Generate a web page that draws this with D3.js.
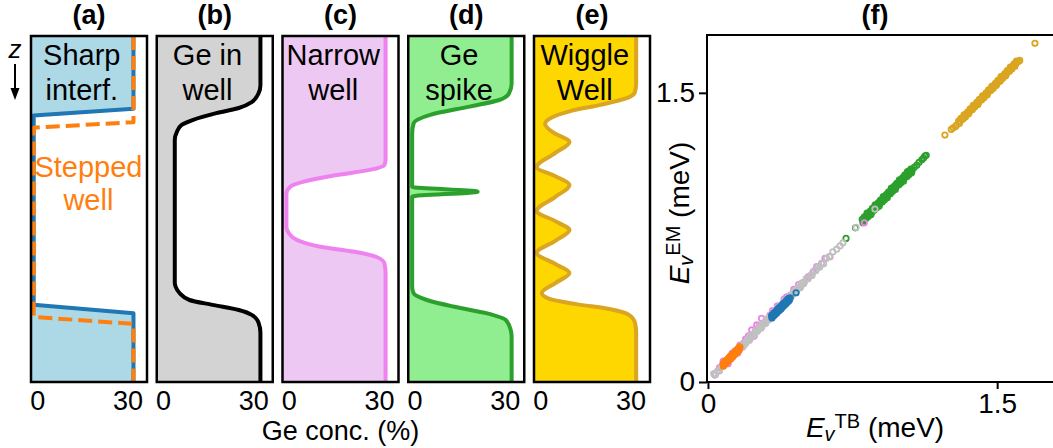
<!DOCTYPE html>
<html>
<head>
<meta charset="utf-8">
<script src="https://cdn.jsdelivr.net/npm/d3@7"></script>
<style>
  body { margin: 0; background: #fff; }
  svg text { font-family: "Liberation Sans", Arial, Helvetica, sans-serif; }
</style>
</head>
<body>
<svg id="fig" width="1053" height="448"></svg>
<script>
// ---------- Ge concentration profiles: [Ge conc. (%), depth z (a.u., 0 = top)] ----------
const profileSharp = [[32, 0], [32, 21.0], [-1.2, 23.0], [-1.2, 77.7], [32, 80.1], [32, 100]];
const profileStepped = [[32, 0], [32, 24.9], [-1.2, 26.5], [-1.2, 81.2], [32, 83.2], [32, 100]];
const profileGeWell = [[32.4, 0], [32.4, 14.2], [31.8, 16.5], [29.5, 19.1], [25.2, 20.8], [17.7, 22.3],
  [9.8, 24.3], [6.2, 25.7], [4.6, 27.7], [3.9, 30.1], [3.9, 71.4], [4.2, 72.5], [5.5, 74.3],
  [8.8, 76.3], [16.4, 77.7], [25.2, 79.2], [29.5, 80.6], [31.8, 82.9], [32.4, 85.8], [32.4, 100]];
const profileNarrow = [[32.2, 0], [32.2, 35.8], [31.8, 37.3], [26.9, 38.7], [15.9, 40.2], [5.0, 42.1],
  [0.6, 43.5], [-0.8, 45.5], [-0.8, 55.1], [0, 57.0], [2.8, 59.0], [10.5, 60.9], [21.4, 62.3],
  [29.0, 63.8], [31.8, 65.7], [32.2, 68.6], [32.2, 100]];
const profileSpike = [[32.3, 0], [32.3, 13.7], [31.4, 16.6], [28.2, 18.5], [18.3, 20.4], [5.2, 22.8],
  [-0.3, 25.2], [-0.8, 28.1], [-0.8, 43.6], [21, 45.0], [-0.8, 46.4], [-0.8, 72.5], [-0.3, 74.4],
  [4.1, 76.3], [12.9, 78.2], [23.8, 80.1], [30.4, 82.1], [32.0, 85.0], [32.3, 87], [32.3, 100]];
const profileWiggle = [[31.9, 0], [31.9, 13.6], [31.5, 16.2], [29, 17.9], [20, 19.9], [10, 21.7],
  [3.5, 23.7], [1.6, 25.4], [4.5, 28.0], [9.7, 30.6], [5, 33.8], [-1.2, 37.9], [5, 40.5], [9.7, 43.1],
  [5, 46.5], [-1.2, 50.6], [5, 53.5], [9.7, 56.1], [5, 59.2], [-1.2, 62.7], [5, 65.9], [9.7, 68.5],
  [5, 71.4], [0.5, 74.3], [3, 76.0], [12, 77.5], [23, 78.9], [29.5, 80.6], [31.5, 82.9],
  [31.9, 85.8], [31.9, 100]];

const concTicks = [0, 30];
const panelTitles = ["(a)", "(b)", "(c)", "(d)", "(e)"];
const panelNotes = [["Sharp", "interf."], ["Ge in", "well"], ["Narrow", "well"], ["Ge", "spike"], ["Wiggle", "Well"]];
const steppedNote = ["Stepped", "well"];

// ---------- valley splitting: [E_v TB (meV), E_v EM (meV)] ----------
const ptsStepped = [[0.078,0.094],[0.082,0.088],[0.086,0.097],[0.090,0.094],[0.094,0.108],[0.098,0.107],
  [0.102,0.118],[0.106,0.112],[0.110,0.121],[0.114,0.118],[0.118,0.132],[0.122,0.131],[0.126,0.142],
  [0.130,0.136],[0.134,0.145],[0.138,0.142],[0.142,0.156],[0.146,0.155],[0.150,0.166],[0.154,0.160],
  [0.158,0.169],[0.162,0.166],[0.166,0.180],
  [0.080,0.082],[0.084,0.101],[0.088,0.096],[0.092,0.110],[0.096,0.100],[0.100,0.112],[0.104,0.106],
  [0.108,0.125],[0.112,0.120],[0.116,0.134],[0.120,0.124],[0.124,0.136],[0.128,0.130],[0.132,0.149],
  [0.136,0.144],[0.140,0.158],[0.144,0.148],[0.148,0.160],[0.152,0.154],[0.156,0.173],[0.160,0.168],
  [0.164,0.182]];
const ptsSharp = [[0.330,0.344],[0.334,0.338],[0.338,0.347],[0.342,0.344],[0.346,0.358],[0.350,0.357],
  [0.354,0.368],[0.358,0.362],[0.362,0.371],[0.366,0.368],[0.370,0.382],[0.374,0.381],[0.378,0.392],
  [0.382,0.386],[0.386,0.395],[0.390,0.392],[0.394,0.406],[0.398,0.405],[0.402,0.416],[0.406,0.410],
  [0.410,0.419],[0.414,0.416],[0.418,0.430],[0.422,0.429],[0.426,0.437],
  [0.332,0.332],[0.336,0.351],[0.340,0.346],[0.344,0.360],[0.348,0.350],[0.352,0.362],[0.356,0.356],
  [0.360,0.375],[0.364,0.370],[0.368,0.384],[0.372,0.374],[0.376,0.386],[0.380,0.380],[0.384,0.399],
  [0.388,0.394],[0.392,0.408],[0.396,0.398],[0.400,0.410],[0.404,0.404],[0.408,0.423],[0.412,0.418],
  [0.416,0.432],[0.420,0.422],[0.424,0.434],[0.457,0.463]];
const ptsGeWell = [[0.030,0.043],[0.040,0.040],[0.050,0.058],[0.060,0.058],[0.070,0.081],[0.080,0.084],
  [0.090,0.105],[0.100,0.102],[0.110,0.119],[0.120,0.120],[0.130,0.143],[0.140,0.146],[0.150,0.167],
  [0.160,0.164],[0.170,0.181],[0.180,0.181],[0.190,0.205],[0.200,0.208],[0.210,0.228],[0.220,0.226],
  [0.230,0.243],[0.240,0.243],[0.250,0.267],[0.260,0.270],[0.270,0.290],[0.280,0.287],[0.290,0.305],
  [0.300,0.305],[0.310,0.328],[0.320,0.332],[0.330,0.352],[0.340,0.349],[0.350,0.367],[0.360,0.367],
  [0.370,0.390],[0.380,0.393],[0.390,0.414],[0.400,0.411],[0.410,0.428],[0.420,0.429],[0.430,0.452],
  [0.440,0.455],[0.450,0.476],[0.460,0.473],[0.470,0.490],[0.480,0.490],[0.490,0.514],[0.500,0.517],
  [0.510,0.537],[0.520,0.535],[0.530,0.552],[0.540,0.552],[0.550,0.576],[0.560,0.579],[0.570,0.599],
  [0.580,0.596],[0.590,0.614],[0.600,0.614],[0.615,0.642],[0.630,0.651],[0.648,0.675],[0.668,0.689],
  [0.685,0.706],[0.700,0.722],[0.768,0.802],[0.866,0.897],
  [0.155,0.156],[0.165,0.180],[0.175,0.182],[0.185,0.203],[0.195,0.200],[0.205,0.217],[0.215,0.217],
  [0.225,0.242],[0.235,0.244],[0.245,0.264],[0.255,0.262],[0.265,0.279],[0.275,0.279],[0.285,0.304],
  [0.295,0.306],[0.305,0.326],[0.315,0.323],[0.325,0.341],[0.335,0.341],[0.345,0.365],[0.355,0.368],
  [0.365,0.388],[0.375,0.385],[0.385,0.403],[0.395,0.403],[0.405,0.427],[0.415,0.429],[0.425,0.450],
  [0.435,0.447],[0.445,0.464],[0.455,0.465],[0.465,0.489],[0.475,0.491],[0.485,0.512],[0.495,0.509]];
const ptsNarrow = [[0.036,0.036],[0.060,0.075],[0.079,0.108],[0.095,0.110],[0.105,0.095],[0.125,0.148],
  [0.140,0.160],[0.155,0.150],[0.166,0.192],[0.183,0.185],[0.195,0.222],[0.210,0.240],[0.227,0.270],
  [0.240,0.238],[0.253,0.296],[0.265,0.290],[0.278,0.330],[0.300,0.318],[0.322,0.347],[0.335,0.370],
  [0.360,0.395],[0.378,0.380],[0.395,0.430],[0.408,0.442],[0.425,0.428],[0.445,0.480],[0.470,0.505],
  [0.495,0.515],[0.520,0.546],[0.545,0.570],[0.564,0.598],[0.590,0.616],[0.607,0.642],[0.633,0.650],
  [0.811,0.826]];
const ptsSpike = [[0.716,0.745],[0.765,0.800],
  [0.800,0.844],[0.807,0.837],[0.814,0.852],[0.821,0.849],[0.828,0.871],[0.835,0.870],
  [0.842,0.887],[0.849,0.880],[0.856,0.896],[0.863,0.892],[0.870,0.914],[0.877,0.913],
  [0.884,0.931],[0.891,0.924],[0.898,0.939],[0.905,0.935],[0.912,0.957],[0.919,0.957],
  [0.926,0.974],[0.933,0.967],[0.940,0.982],[0.947,0.978],[0.954,1.001],[0.961,1.000],
  [0.968,1.017],[0.975,1.010],[0.982,1.025],[0.989,1.022],[0.996,1.044],[1.003,1.043],
  [1.010,1.060],[1.017,1.054],[1.024,1.069],[1.031,1.065],[1.038,1.087],[1.045,1.086],
  [1.052,1.104],[1.059,1.097],
  [0.804,0.826],[0.811,0.857],[0.818,0.851],[0.825,0.876],[0.832,0.859],[0.839,0.880],
  [0.846,0.869],[0.853,0.901],[0.860,0.894],[0.867,0.919],[0.874,0.902],[0.881,0.923],
  [0.888,0.913],[0.895,0.944],[0.902,0.937],[0.909,0.962],[0.916,0.945],[0.923,0.967],
  [0.930,0.956],[0.937,0.987],[0.944,0.980],[0.951,1.006],[0.958,0.989],[0.965,1.010],
  [0.972,0.999],[0.979,1.030],[0.986,1.024],[0.993,1.049],[1.000,1.032],[1.007,1.053],
  [1.014,1.042],[1.021,1.074],[1.028,1.067],[1.035,1.092],[1.042,1.075],[1.049,1.096],
  [1.056,1.086],
  [1.070,1.114],[1.083,1.125],[1.095,1.140],[1.110,1.154],[1.118,1.162],[1.125,1.172],[1.132,1.176]];
const ptsWiggle = [[1.229,1.281],[1.262,1.310],[1.272,1.319],[1.284,1.326],[1.290,1.333],
  [1.300,1.353],[1.308,1.351],[1.316,1.364],[1.324,1.365],[1.332,1.384],[1.340,1.387],
  [1.348,1.402],[1.356,1.401],[1.364,1.414],[1.372,1.414],[1.380,1.433],[1.388,1.437],
  [1.396,1.452],[1.404,1.450],[1.412,1.463],[1.420,1.464],[1.428,1.483],[1.436,1.486],
  [1.444,1.501],[1.452,1.500],[1.460,1.513],[1.468,1.513],[1.476,1.532],[1.484,1.536],
  [1.492,1.551],[1.500,1.549],[1.508,1.562],[1.516,1.562],[1.524,1.582],[1.532,1.585],
  [1.540,1.600],[1.548,1.598],[1.556,1.612],[1.564,1.612],[1.572,1.631],[1.580,1.634],
  [1.588,1.650],[1.596,1.648],[1.604,1.661],
  [1.304,1.341],[1.312,1.367],[1.320,1.365],[1.328,1.386],[1.336,1.376],[1.344,1.395],
  [1.352,1.391],[1.360,1.417],[1.368,1.414],[1.376,1.435],[1.384,1.426],[1.392,1.445],
  [1.400,1.440],[1.408,1.466],[1.416,1.464],[1.424,1.485],[1.432,1.475],[1.440,1.494],
  [1.448,1.489],[1.456,1.516],[1.464,1.513],[1.472,1.534],[1.480,1.524],[1.488,1.544],
  [1.496,1.539],[1.504,1.565],[1.512,1.562],[1.520,1.584],[1.528,1.574],[1.536,1.593],
  [1.544,1.588],[1.552,1.615],[1.560,1.612],[1.568,1.633],[1.576,1.623],[1.584,1.643],
  [1.592,1.638],[1.600,1.664],
  [1.612,1.664],[1.617,1.668],[1.696,1.757]];
const energyTicks = [0, 1.5];

// ---------- layout ----------
const svg = d3.select("#fig");
const FONT = 29;
const panelTop = 36, panelH = 346, panelW = 116, panelStep = 125.75, firstLeft = 31;

const x = d3.scaleLinear().domain([-2.1, 36.5]).range([0, panelW]);
const z = d3.scaleLinear().domain([0, 100]).range([0, panelH]);

const panelStyles = [
  { profile: profileSharp, fill: "#add8e6", stroke: "#1f77b4", curve: d3.curveLinear },
  { profile: profileGeWell, fill: "#d3d3d3", stroke: "#000000", curve: d3.curveMonotoneY },
  { profile: profileNarrow, fill: "#ecc8f3", stroke: "#ee82ee", curve: d3.curveMonotoneY },
  { profile: profileSpike, fill: "#90ee90", stroke: "#2ca02c", curve: d3.curveMonotoneY },
  { profile: profileWiggle, fill: "#ffd700", stroke: "#daa520", curve: d3.curveMonotoneY }
];

const defs = svg.append("defs");
defs.append("clipPath").attr("id", "panelClip")
  .append("rect").attr("x", 0).attr("y", 0).attr("width", panelW).attr("height", panelH);

panelStyles.forEach((st, i) => {
  const g = svg.append("g").attr("transform", `translate(${firstLeft + i * panelStep},${panelTop})`);
  const inner = g.append("g").attr("clip-path", "url(#panelClip)");

  const area = d3.area().curve(st.curve)
    .y(d => z(d[1])).x0(x.range()[0]).x1(d => x(d[0]));
  const line = d3.line().curve(st.curve)
    .x(d => x(d[0])).y(d => z(d[1]));

  inner.append("path").datum(st.profile).attr("d", area).attr("fill", st.fill);
  inner.append("path").datum(st.profile).attr("d", line)
    .attr("fill", "none").attr("stroke", st.stroke).attr("stroke-width", 4)
    .attr("stroke-linejoin", "round").attr("stroke-linecap", "round");

  if (i === 0) {
    inner.append("path").datum(profileStepped).attr("d", line)
      .attr("fill", "none").attr("stroke", "#ff7f0e").attr("stroke-width", 4)
      .attr("stroke-dasharray", "14,6").attr("stroke-linejoin", "round");
    g.append("g").selectAll("text").data(steppedNote).join("text")
      .attr("x", x(17)).attr("y", (d, k) => 141 + k * 33)
      .attr("text-anchor", "middle").attr("font-size", FONT).attr("fill", "#ff7f0e")
      .text(d => d);
  }

  g.append("rect").attr("x", 0).attr("y", 0).attr("width", panelW).attr("height", panelH)
    .attr("fill", "none").attr("stroke", "#000").attr("stroke-width", 2.5);

  g.append("g").selectAll("text").data(panelNotes[i]).join("text")
    .attr("x", x(14.8)).attr("y", (d, k) => 29 + k * 35)
    .attr("text-anchor", "middle").attr("font-size", FONT).attr("fill", "#000")
    .text(d => d);

  g.append("text").attr("x", panelW / 2).attr("y", -12)
    .attr("text-anchor", "middle").attr("font-size", 27).attr("font-weight", "bold")
    .text(panelTitles[i]);

  const ax = g.append("g").attr("transform", `translate(0,${panelH})`)
    .call(d3.axisBottom(x).tickValues(concTicks).tickSize(0).tickPadding(9).tickFormat(d3.format("d")));
  ax.select(".domain").remove();
  ax.selectAll("text").attr("font-size", 27).attr("fill", "#000")
    .attr("font-family", '"Liberation Sans", Arial, sans-serif');
});

// shared x label
svg.append("text").attr("x", firstLeft + (4 * panelStep + panelW) / 2).attr("y", 440)
  .attr("text-anchor", "middle").attr("font-size", 27).text("Ge conc. (%)");

// depth direction marker
svg.append("text").attr("x", 15).attr("y", 58).attr("text-anchor", "middle")
  .attr("font-size", 26).attr("font-style", "italic").text("z");
svg.append("line").attr("x1", 15).attr("x2", 15).attr("y1", 64).attr("y2", 92)
  .attr("stroke", "#000").attr("stroke-width", 2);
svg.append("path").attr("d", "M10.5,88 L19.5,88 L15,100 Z").attr("fill", "#000");

// ---------- (f) scatter ----------
const sx = d3.scaleLinear().domain([-0.005, 1.8]).range([707, 1055]);
const sy = d3.scaleLinear().domain([0, 1.8]).range([382, 35]);

const fg = svg.append("g");
const seriesOrder = [
  { pts: ptsWiggle, color: "#daa520" },
  { pts: ptsSpike, color: "#2ca02c" },
  { pts: ptsNarrow, color: "#ee82ee" },
  { pts: ptsGeWell, color: "#c0c0c0" },
  { pts: ptsSharp, color: "#1f77b4" },
  { pts: ptsStepped, color: "#ff7f0e" }
];
seriesOrder.forEach(s => {
  fg.append("g").selectAll("circle").data(s.pts).join("circle")
    .attr("cx", d => sx(d[0])).attr("cy", d => sy(d[1])).attr("r", 2.7)
    .attr("fill", "none").attr("stroke", s.color).attr("stroke-width", 1.8);
});

// frame: left, bottom, top spines
fg.append("path")
  .attr("d", `M${sx.range()[1]},${sy(1.8)} H${sx(-0.005)} V${sy(0)} H${sx.range()[1]}`)
  .attr("fill", "none").attr("stroke", "#000").attr("stroke-width", 2);

const tickFmt = d => d === 0 ? "0" : d3.format(".1f")(d);
const fx = fg.append("g").attr("transform", `translate(0,${sy(0)})`)
  .call(d3.axisBottom(sx).tickValues(energyTicks).tickSize(7).tickPadding(4).tickFormat(tickFmt));
const fyA = fg.append("g").attr("transform", `translate(${sx(-0.005)},0)`)
  .call(d3.axisLeft(sy).tickValues(energyTicks).tickSize(8).tickPadding(4).tickFormat(tickFmt));
[fx, fyA].forEach(a => {
  a.select(".domain").remove();
  a.selectAll("line").attr("stroke-width", 2);
  a.selectAll("text").attr("font-size", 28).attr("fill", "#000")
    .attr("font-family", '"Liberation Sans", Arial, sans-serif');
});

svg.append("text").attr("x", 875).attr("y", 24).attr("text-anchor", "middle")
  .attr("font-size", 27).attr("font-weight", "bold").text("(f)");

function energyLabel(sel, sup) {
  sel.append("tspan").attr("font-style", "italic").text("E");
  sel.append("tspan").attr("font-style", "italic").attr("font-size", 20).attr("dy", 4).text("v");
  sel.append("tspan").attr("font-size", 20).attr("dy", -13).text(sup);
  sel.append("tspan").attr("dy", 9).text(" (meV)");
}
const xl = svg.append("text").attr("x", 875).attr("y", 437).attr("text-anchor", "middle").attr("font-size", 28);
energyLabel(xl, "TB");
const yl = svg.append("text").attr("transform", "translate(689,213) rotate(-90)")
  .attr("text-anchor", "middle").attr("font-size", 28);
energyLabel(yl, "EM");
</script>
</body>
</html>
